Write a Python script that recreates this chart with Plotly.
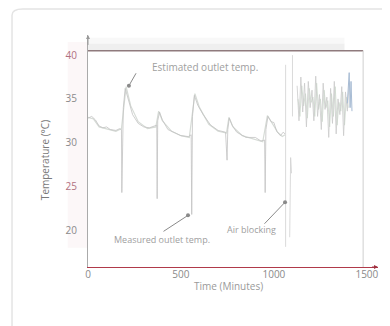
import plotly.graph_objects as go

# ---- data ----
meas_t = [0, 20, 40, 60, 80, 100, 120, 150, 170, 180, 182, 185, 190, 200, 215, 240, 270, 300, 330, 360, 370,
          372, 375, 385, 400, 430, 460, 500, 540, 555, 558, 562, 572, 590, 620, 660, 700, 740, 748, 752, 760,
          775, 800, 850, 900, 930, 950, 953, 957, 968, 985, 1000, 1015, 1035, 1050, 1060]
meas_T = [32.8, 33.0, 32.6, 31.9, 31.7, 31.8, 31.5, 31.4, 31.6, 31.5, 24.3, 31.0, 34.0, 36.2, 35.0, 33.2, 32.2,
          31.8, 31.7, 31.9, 32.0, 23.6, 32.5, 33.5, 32.6, 31.5, 31.2, 30.8, 30.7, 30.9, 21.8, 33.0, 35.4, 34.3,
          33.2, 32.0, 31.4, 31.2, 28.0, 31.5, 32.8, 32.0, 31.2, 30.6, 30.6, 30.2, 30.3, 24.3, 31.5, 33.0, 32.4,
          32.3, 31.3, 30.8, 31.2, 31.0]

est_t = [0, 30, 60, 100, 150, 180, 195, 205, 230, 270, 320, 365, 380, 400, 450, 500, 545, 565, 575, 600,
         650, 700, 745, 758, 780, 830, 880, 940, 965, 990, 1020, 1045, 1060]
est_T = [32.9, 32.7, 31.8, 31.6, 31.3, 31.6, 34.8, 36.4, 34.2, 32.4, 31.6, 31.8, 33.6, 32.5, 31.3, 30.8, 30.6,
         33.8, 35.6, 34.0, 32.1, 31.3, 31.1, 32.9, 31.8, 30.8, 30.5, 30.1, 33.1, 32.2, 31.2, 30.7, 30.9]

block_t = [1063, 1063, None, 1085, 1090, 1095, None, 1100, 1100]
block_T = [38.9, 18.1, None, 19.2, 28.3, 26.5, None, 40.0, 33.0]

noisy_meas_t = [1125, 1135, 1145, 1155, 1165, 1175, 1185, 1195, 1205, 1215, 1225, 1235, 1245, 1255,
                1265, 1275, 1285, 1295, 1305, 1315, 1325, 1335, 1345, 1355, 1365, 1375, 1385, 1395, 1405]
noisy_meas_T = [36.5, 32.5, 37.5, 33.5, 36.8, 31.8, 37.0, 34.0, 36.0, 32.5, 37.6, 33.0, 35.5, 31.5, 36.8,
                33.8, 35.2, 30.6, 36.2, 32.2, 37.0, 31.0, 35.0, 33.2, 36.4, 30.8, 35.8, 33.6, 36.8]

noisy_est_t = [1130, 1140, 1150, 1160, 1170, 1180, 1190, 1200, 1210, 1220, 1230, 1240, 1250, 1260,
               1270, 1280, 1290, 1300, 1310, 1320, 1330, 1340, 1350, 1360, 1370, 1380, 1390, 1400]
noisy_est_T = [35.0, 33.0, 36.5, 34.2, 35.6, 32.8, 36.2, 34.6, 35.2, 33.0, 36.8, 33.8, 35.0, 32.4, 36.0,
               34.0, 34.8, 31.8, 35.6, 33.0, 36.4, 32.0, 34.6, 33.6, 35.8, 32.0, 35.2, 34.0]

blue_t = [1395, 1400, 1405, 1410, 1415, 1420]
blue_T = [34.5, 37.4, 38.0, 34.0, 37.0, 33.6]

x_ticks = [0, 500, 1000, 1500]
y_ticks = [20, 25, 30, 35, 40]
y_labels = ["20", "<span style='color:#b07080'>25</span>", "30", "35",
            "<span style='color:#b07080'>40</span>"]

# label texts and their anchor points (data coords)
labels = ["Estimated outlet temp.", "Measured outlet temp.", "Air blocking"]
label_t = [629, 398, 882]
label_T = [38.65, 18.9, 20.1]
arrow_t = [220, 538, 1060]
arrow_T = [36.5, 21.7, 23.2]
arrow_dx = [8, -26, -22]
arrow_dy = [-14, 17, 23]
label_size = [10, 9, 9]

X_RANGE = [0, 1560]
Y_RANGE = [15.8, 42.3]
FRAME_X = 1480
FRAME_Y = 40.5

fig = go.Figure()
fig.add_trace(go.Scatter(x=est_t, y=est_T, mode="lines", line=dict(color="#d6dbd6", width=1.2),
                         hoverinfo="skip", showlegend=False))
fig.add_trace(go.Scatter(x=meas_t, y=meas_T, mode="lines", line=dict(color="#c2c2c2", width=0.8),
                         hoverinfo="skip", showlegend=False))
fig.add_trace(go.Scatter(x=block_t, y=block_T, mode="lines", line=dict(color="#d0d0d0", width=0.8),
                         hoverinfo="skip", showlegend=False, connectgaps=False))
fig.add_trace(go.Scatter(x=noisy_est_t, y=noisy_est_T, mode="lines", line=dict(color="#cddacd", width=0.8),
                         hoverinfo="skip", showlegend=False))
fig.add_trace(go.Scatter(x=noisy_meas_t, y=noisy_meas_T, mode="lines", line=dict(color="#cacaca", width=0.8),
                         hoverinfo="skip", showlegend=False))
fig.add_trace(go.Scatter(x=blue_t, y=blue_T, mode="lines", line=dict(color="#a8bcd4", width=1),
                         hoverinfo="skip", showlegend=False))

font_fam = "Open Sans"

shapes = [
    # outer card border (rounded corner top-left)
    dict(type="path", xref="paper", yref="paper",
         path="M -0.262 -0.3 L -0.262 1.085 Q -0.262 1.112 -0.225 1.112 L 1.2 1.112",
         line=dict(color="#e4e4e4", width=1.5), layer="below"),
    # top shadow band (subtle)
    dict(type="rect", xref="x", yref="y", x0=0, x1=1380, y0=FRAME_Y, y1=42.0,
         fillcolor="rgba(215,215,215,0.18)", line=dict(width=0), layer="below"),
    dict(type="rect", xref="x", yref="y", x0=0, x1=1380, y0=FRAME_Y, y1=41.3,
         fillcolor="rgba(200,200,200,0.18)", line=dict(width=0), layer="below"),
    # left pink shadow (subtle)
    dict(type="rect", xref="paper", yref="y", x0=-0.07, x1=0, y0=18, y1=41.5,
         fillcolor="rgba(245,225,228,0.25)", line=dict(width=0), layer="below"),
    # frame top
    dict(type="line", xref="x", yref="y", x0=0, x1=FRAME_X, y0=FRAME_Y, y1=FRAME_Y,
         line=dict(color="#8f7a7d", width=1.4)),
    # frame right
    dict(type="line", xref="x", yref="y", x0=FRAME_X, x1=FRAME_X, y0=FRAME_Y, y1=Y_RANGE[0],
         line=dict(color="#cfcfcf", width=1)),
]

annotations = [
    # axis arrowheads
    dict(x=1560, y=Y_RANGE[0], ax=1520, ay=Y_RANGE[0], xref="x", yref="y", axref="x", ayref="y",
         showarrow=True, arrowhead=2, arrowsize=0.8, arrowwidth=1, arrowcolor="#a03040", text=""),
    dict(x=0, y=42.3, ax=0, ay=41.0, xref="x", yref="y", axref="x", ayref="y",
         showarrow=True, arrowhead=2, arrowsize=0.8, arrowwidth=1, arrowcolor="#999999", text=""),
    # axis titles
    dict(x=0.483, y=-0.082, xref="paper", yref="paper", text="Time (Minutes)", showarrow=False,
         xanchor="center", yanchor="middle", font=dict(size=10, color="#9a9a9a", family=font_fam)),
    dict(x=-0.148, y=0.461, xref="paper", yref="paper", text="Temperature (°C)", showarrow=False,
         textangle=-90, xanchor="center", yanchor="middle",
         font=dict(size=10, color="#7a7a7a", family=font_fam)),
]
for txt, lt, lT, at, aT, dx, dy, sz in zip(labels, label_t, label_T, arrow_t, arrow_T,
                                          arrow_dx, arrow_dy, label_size):
    annotations.append(dict(x=lt, y=lT, xref="x", yref="y", text=txt, showarrow=False,
                            xanchor="center", yanchor="middle",
                            font=dict(size=sz, color="#a0a0a0", family=font_fam)))
    annotations.append(dict(x=at, y=aT, xref="x", yref="y", text="", showarrow=True,
                            ax=dx, ay=dy, arrowhead=6, arrowsize=1, arrowwidth=1,
                            arrowcolor="#8a8a8a"))

fig.update_layout(
    width=382, height=318,
    margin=dict(l=80, r=12, t=27, b=59, autoexpand=False),
    paper_bgcolor="white", plot_bgcolor="white",
    font=dict(family=font_fam, color="#8a8a8a", size=10),
    shapes=shapes, annotations=annotations,
    xaxis=dict(range=X_RANGE, tickvals=x_ticks, ticktext=[str(v) for v in x_ticks], automargin=False,
               showgrid=False, zeroline=False, showline=True, linecolor="#b03a4a", linewidth=1.2,
               ticks="", ticklabelstandoff=-2, tickfont=dict(size=10, color="#8a8a8a")),
    yaxis=dict(range=Y_RANGE, tickvals=y_ticks, ticktext=y_labels, automargin=False,
               showgrid=False, zeroline=False, showline=True, linecolor="#aaaaaa", linewidth=1,
               ticks="", ticklabelstandoff=8, tickfont=dict(size=10, color="#8a8a8a")),
)

fig.write_html("out.html")
